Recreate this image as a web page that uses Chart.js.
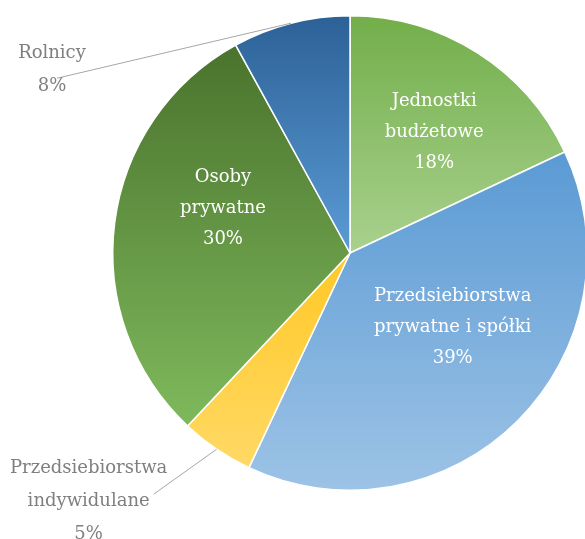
<!DOCTYPE html>
<html>
<head>
<meta charset="utf-8">
<script src="https://cdn.jsdelivr.net/npm/chart.js@4/dist/chart.umd.min.js"></script>
<style>
  html, body { margin: 0; padding: 0; background: #fff; overflow: hidden; }
  #wrap { position: absolute; left: 0; top: 0; width: 700px; height: 539px; }
</style>
</head>
<body>
<div id="wrap"><canvas id="pie" width="700" height="539"></canvas></div>
<script>
// Data
const categories = [
    ['Jednostki', 'budżetowe'],
    ['Przedsiebiorstwa', 'prywatne i spółki'],
    ['Przedsiebiorstwa', 'indywidulane'],
    ['Osoby', 'prywatne'],
    ['Rolnicy']
];
const shares = [18, 39, 5, 30, 8];
const shareLabels = ['18%', '39%', '5%', '30%', '8%'];

// Gradient colours per slice (top -> bottom)
const gradTop = ['#72ae4a', '#5a9ad4', '#ffc825', '#4a732d', '#2c6196'];
const gradBottom = ['#a9d18e', '#9dc3e6', '#ffd966', '#7fb95c', '#5b9bd5'];

// Vertical extent of one slice, from the chart area and the data
function sliceExtent(chart, index) {
    const area = chart.chartArea;
    const cx = (area.left + area.right) / 2;
    const cy = (area.top + area.bottom) / 2;
    const r = Math.min(area.right - area.left, area.bottom - area.top) / 2;
    const total = shares.reduce((a, b) => a + b, 0);
    let before = 0;
    for (let i = 0; i < index; i++) before += shares[i];
    const a0 = -Math.PI / 2 + (before / total) * Math.PI * 2;
    const a1 = a0 + (shares[index] / total) * Math.PI * 2;
    const ys = [cy, cy + Math.sin(a0) * r, cy + Math.sin(a1) * r];
    [Math.PI / 2, -Math.PI / 2, Math.PI * 1.5].forEach(a => {
        if (a > a0 && a < a1) ys.push(cy + Math.sin(a) * r);
    });
    return { top: Math.min(...ys), bottom: Math.max(...ys) };
}

function sliceGradient(context) {
    const chart = context.chart;
    if (!chart.chartArea) return gradBottom[context.dataIndex];
    const ext = sliceExtent(chart, context.dataIndex);
    const g = chart.ctx.createLinearGradient(0, ext.top, 0, ext.bottom);
    g.addColorStop(0, gradTop[context.dataIndex]);
    g.addColorStop(1, gradBottom[context.dataIndex]);
    return g;
}

// Label placement: inside labels by angle shift and radius fraction,
// outside labels by offsets from the slice's outer edge point
const labelPlacement = [
    { inside: true, shift: 2.5, dist: 0.62, lineHeight: 31 },
    { inside: true, shift: -9, dist: 0.535, lineHeight: 31 },
    { inside: false, lineTo: [-63, 45], text: [-128, 52], lineHeight: 33 },
    { inside: true, shift: 12, dist: 0.567, lineHeight: 31 },
    { inside: false, lineTo: [-234, 55], text: [-239, 47], lineHeight: 33 }
];

const pieLabels = {
    id: 'pieLabels',
    afterDatasetsDraw(chart) {
        const ctx = chart.ctx;
        const arcs = chart.getDatasetMeta(0).data;
        ctx.save();
        ctx.font = '18px "DejaVu Serif"';
        ctx.textAlign = 'center';
        ctx.textBaseline = 'middle';
        arcs.forEach((arc, i) => {
            const p = labelPlacement[i];
            const mid = (arc.startAngle + arc.endAngle) / 2;
            const lines = categories[i].concat([shareLabels[i]]);
            let x, y;
            if (p.inside) {
                const a = mid + p.shift * Math.PI / 180;
                x = arc.x + Math.cos(a) * arc.outerRadius * p.dist;
                y = arc.y + Math.sin(a) * arc.outerRadius * p.dist;
                ctx.fillStyle = '#ffffff';
            } else {
                const ex = arc.x + Math.cos(mid) * arc.outerRadius;
                const ey = arc.y + Math.sin(mid) * arc.outerRadius;
                ctx.strokeStyle = '#a6a6a6';
                ctx.lineWidth = 1;
                ctx.beginPath();
                ctx.moveTo(ex, ey);
                ctx.lineTo(ex + p.lineTo[0], ey + p.lineTo[1]);
                ctx.stroke();
                x = ex + p.text[0];
                y = ey + p.text[1];
                ctx.fillStyle = '#7f7f7f';
            }
            const startY = y - (lines.length - 1) * p.lineHeight / 2;
            lines.forEach((t, k) => ctx.fillText(t, x, startY + k * p.lineHeight));
        });
        ctx.restore();
    }
};

new Chart(document.getElementById('pie').getContext('2d'), {
    type: 'pie',
    data: {
        labels: categories.map(c => c.join(' ')),
        datasets: [{
            data: shares,
            backgroundColor: sliceGradient,
            borderColor: '#ffffff',
            borderWidth: 1.5
        }]
    },
    options: {
        responsive: false,
        animation: false,
        devicePixelRatio: 1,
        layout: { padding: { top: 15, bottom: 48, left: 112, right: 112 } },
        plugins: {
            legend: { display: false },
            tooltip: { enabled: false }
        }
    },
    plugins: [pieLabels]
});
</script>
</body>
</html>
